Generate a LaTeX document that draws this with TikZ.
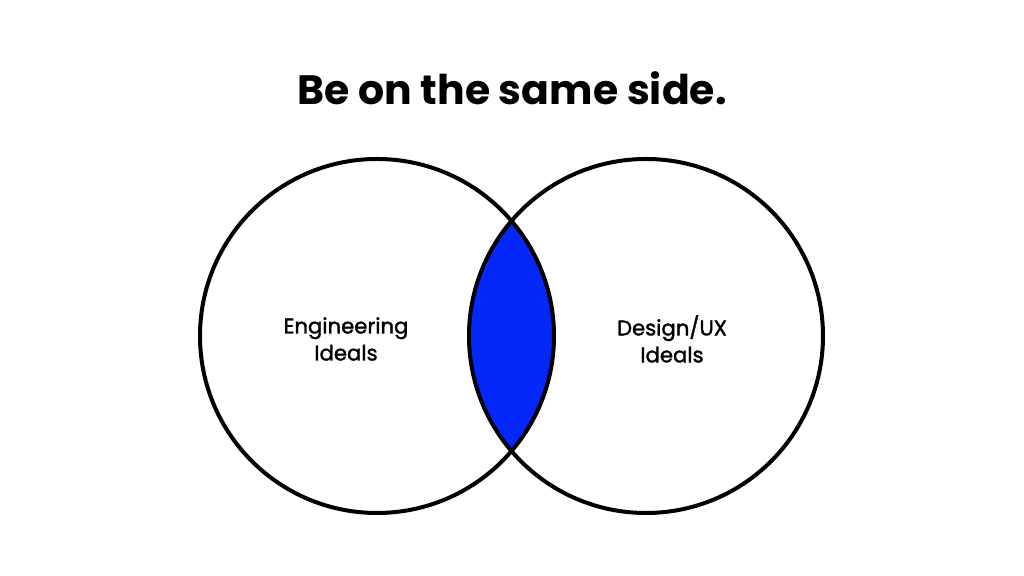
\documentclass[tikz,border=0pt]{standalone}
\usepackage{fontspec}
\setmainfont{Poppins}
\newfontfamily\idealfont[FakeBold=1.6]{Poppins}
\usetikzlibrary{positioning}
\definecolor{lensblue}{RGB}{5,40,250}

\begin{document}
\begin{tikzpicture}[
  x=0.5pt, y=0.5pt,
  line width=2pt,
  heading/.style={font=\bfseries\fontsize{20.5}{24}\selectfont},
  ideal/.style={align=center,font=\idealfont\fontsize{10.6}{13.5}\selectfont}
]%
  \useasboundingbox[fill=white] (0,0) rectangle (1024,576);

  \coordinate (cEng) at (377,240);
  \coordinate (cUX) at (646,240);

  \node[heading] (title) at (512,488) {Be on the same side.};

  % shared part
  \begin{scope}
    \clip (cEng) circle (177);
    \fill[lensblue] (cUX) circle (177);
  \end{scope}

  \draw (cEng) circle (177);
  \draw (cUX) circle (177);

  \node[ideal] (eng) at (346,237) {Engineering\\Ideals};
  \node[ideal] (ux) at (672,237) {Design/UX\\Ideals};
\end{tikzpicture}
\end{document}
